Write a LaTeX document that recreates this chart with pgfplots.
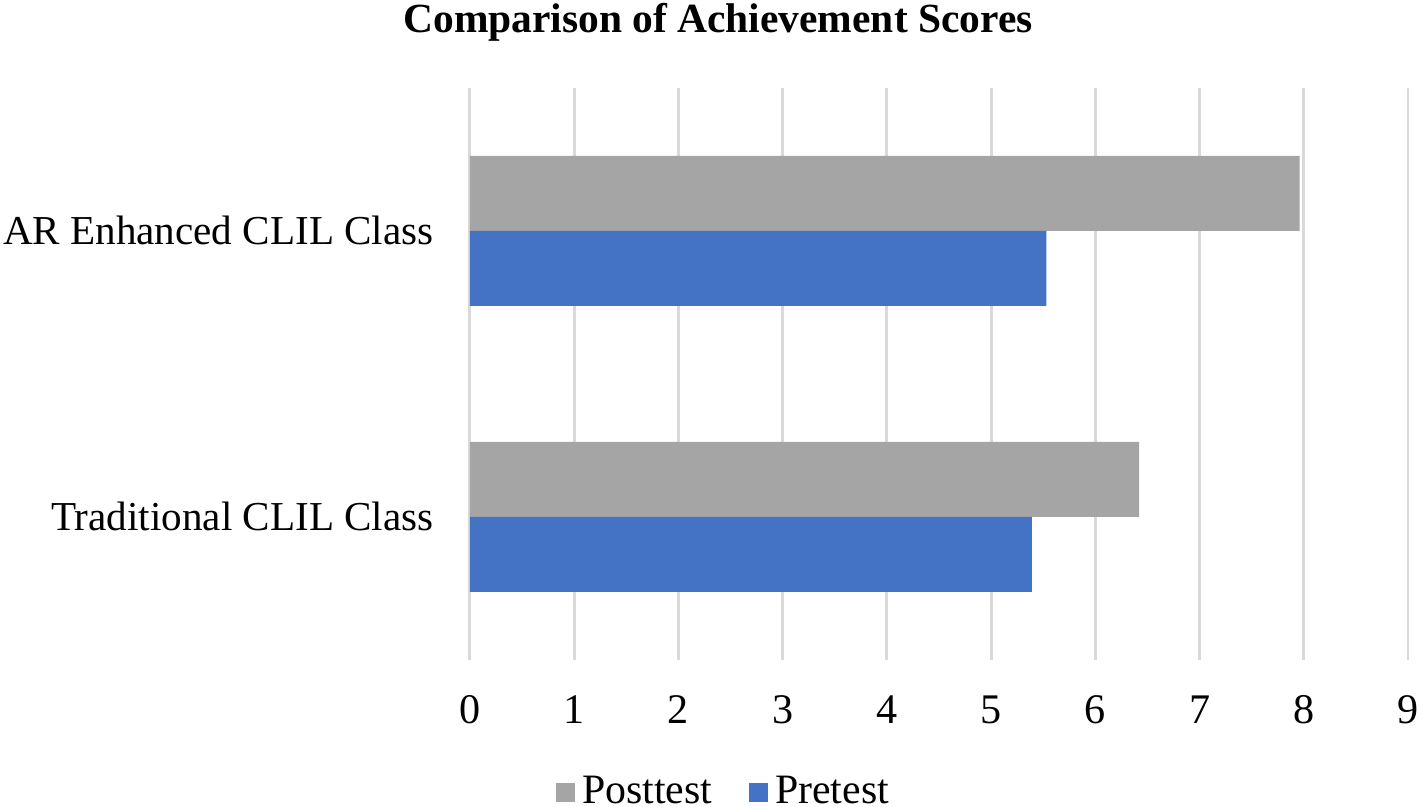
\documentclass[border=0pt]{standalone}
\usepackage{fontspec}
\setmainfont{Liberation Serif}
\usepackage{pgfplots}
\pgfplotsset{compat=1.18}
\definecolor{postc}{HTML}{A5A5A5}
\definecolor{prec}{HTML}{4472C4}
\definecolor{gridc}{HTML}{D9D9D9}
\begin{document}
\begin{tikzpicture}[x=1mm,y=1mm]
\path[use as bounding box] (-47,-14.7) rectangle (94.7,66);
\begin{axis}[
  at={(0,0)}, anchor=south west,
  scale only axis,
  width=93.8mm, height=57.2mm,
  xmin=0, xmax=9,
  ymin=-0.5, ymax=1.5,
  xtick={0,...,9},
  ytick={0,1},
  yticklabels={Traditional CLIL Class, AR Enhanced CLIL Class},
  xmajorgrids,
  grid style={gridc, line width=0.85pt},
  axis line style={draw=none},
  tick style={draw=none},
  font=\fontsize{11.7}{13}\selectfont,
  /pgf/number format/assume math mode=true,
  xticklabel style={anchor=base, yshift=-6.4mm, font=\fontsize{12}{13}\selectfont},
  yticklabel style={anchor=base east, xshift=-0.9mm, yshift=-1.4mm},
  xbar, bar width=7.5mm,
  legend style={at={(0.273,-0.231)}, anchor=center, draw=none, legend columns=2,
    font=\fontsize{11.9}{13}\selectfont,
    /tikz/every even column/.append style={column sep=3mm}},
  legend image code/.code={\fill[#1] (0mm,-0.95mm) rectangle (1.9mm,0.95mm);},
]
\addplot[fill=postc, draw=none, bar shift=3.75mm] coordinates {(6.42,0) (7.96,1)};
\addlegendentry{Posttest}
\addplot[fill=prec, draw=none, bar shift=-3.75mm] coordinates {(5.39,0) (5.53,1)};
\addlegendentry{Pretest}
\end{axis}
\node[font=\bfseries\fontsize{11.8}{13}\selectfont, anchor=base] at (24.8,62.7) {Comparison of Achievement Scores};
\end{tikzpicture}
\end{document}
